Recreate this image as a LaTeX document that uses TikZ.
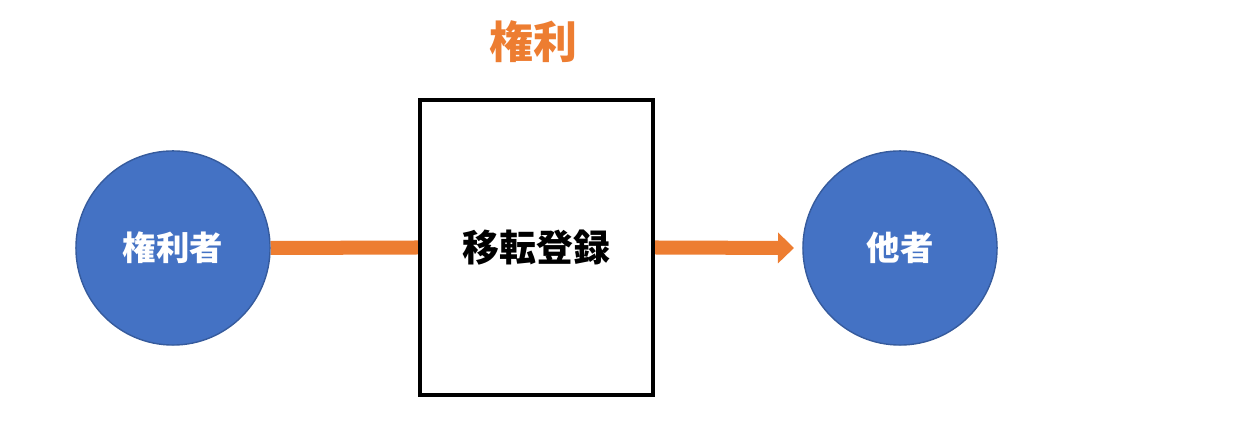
\documentclass[tikz,border=0pt]{standalone}
\usepackage{fontspec}
\newfontfamily\cjk{Noto Sans CJK JP}
\usetikzlibrary{arrows.meta}
\definecolor{blu}{HTML}{4472C4}
\definecolor{org}{HTML}{ED7D31}
\begin{document}
\begin{tikzpicture}[x=0.01cm,y=-0.01cm,
  circ/.style={circle,fill=blu,draw=blu!80!black,line width=0.4pt,minimum size=1.94cm,inner sep=0pt,text=white,font=\cjk\bfseries\fontsize{9.5}{11}\selectfont},
  conn/.style={draw=org,line width=0.14cm}]
\useasboundingbox (0,0) rectangle (1254,422);
\node[circ] (a) at (173,248) {権利者};
\node[circ] (b) at (900,248) {他者};
\node[draw=black,line width=0.04cm,minimum width=2.33cm,minimum height=2.95cm,inner sep=0pt,font=\cjk\bfseries\fontsize{10.5}{12}\selectfont] (box) at (536.5,247.5) {移転登録};
\node[text=org,font=\cjk\bfseries\fontsize{12.5}{14}\selectfont] (t) at (533,42) {権利};
\draw[conn] (a.east) -- (box.west);
\coordinate (e) at (794,248);
\draw[conn,-{Triangle[length=0.16cm,width=0.3cm]}] (box.east) -- (e);
\end{tikzpicture}
\end{document}
